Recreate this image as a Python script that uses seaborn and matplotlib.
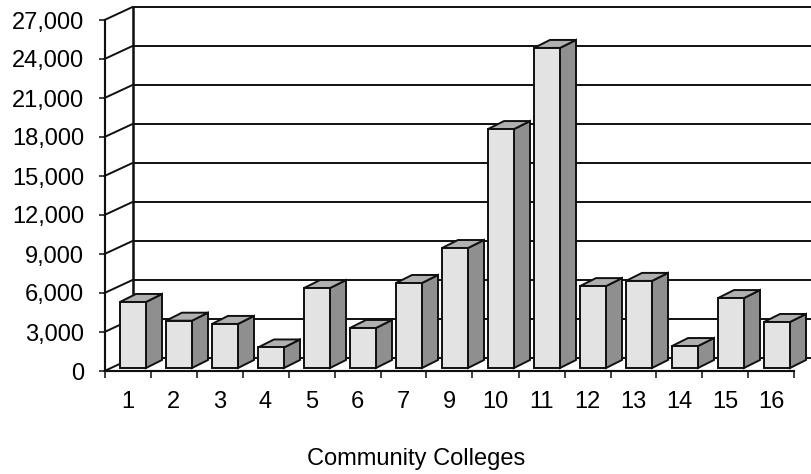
import numpy as np
import pandas as pd
import seaborn as sns
import matplotlib.pyplot as plt
from matplotlib.patches import Polygon

# Note the source chart has no college 8.
colleges = ['1', '2', '3', '4', '5', '6', '7', '9', '10', '11', '12', '13', '14', '15', '16']
students = [5080, 3640, 3390, 1580, 6150, 3080, 6540, 9230, 18380, 24620, 6300, 6700, 1690, 5380, 3540]
y_ticks = [0, 3000, 6000, 9000, 12000, 15000, 18000, 21000, 24000, 27000]

sns.set_style('white')
plt.rcParams['font.family'] = ['Liberation Sans', 'DejaVu Sans']
ink = '#101010'
lw = 1.4

fig = plt.figure(figsize=(8.11, 4.74), dpi=100)
ax = fig.add_axes([104.5 / 811, 103 / 474, 690 / 811, 351 / 474])

df = pd.DataFrame({'college': colleges, 'students': students})
sns.barplot(data=df, x='college', y='students', order=colleges, color='#e3e3e3',
            saturation=1, width=26 / 46, edgecolor=ink, linewidth=lw, ax=ax, zorder=4)
ax.set_xlim(-0.5, 14.5)
ax.set_ylim(0, 27000)

# One category is 46 px wide, 1000 students are 13 px tall.
px_x = 1 / 46
px_y = 1000 / 13

# Fake 3d: back wall and floor.
wall_x = -0.5 + 28 * px_x
wall_dy = 13 * px_y
right_edge = -0.5 + (811 - 104.5) * px_x
for v in y_ticks:
    ax.plot([-0.5, wall_x], [v, v + wall_dy], color=ink, lw=lw, clip_on=False, zorder=2)
    ax.plot([wall_x, right_edge], [v + wall_dy, v + wall_dy], color=ink, lw=lw,
            clip_on=False, zorder=2)
ax.plot([wall_x, wall_x], [wall_dy, 27000 + wall_dy], color=ink, lw=lw * 1.3, clip_on=False, zorder=2)

# Shift the fronts to mid depth, then add the side and top faces.
base = 3 * px_y
depth_x = 16 * px_x
depth_y = 8 * px_y
for bar in ax.containers[0]:
    x0 = bar.get_x() + 5.5 * px_x
    w = bar.get_width()
    h = bar.get_height()
    bar.set_x(x0)
    bar.set_y(base)
    x1 = x0 + w
    top = base + h
    side = [(x1, base), (x1 + depth_x, base + depth_y), (x1 + depth_x, top + depth_y), (x1, top)]
    roof = [(x0, top), (x0 + depth_x, top + depth_y), (x1 + depth_x, top + depth_y), (x1, top)]
    ax.add_patch(Polygon(side, facecolor='#8f8f8f', edgecolor=ink, lw=lw, clip_on=False, zorder=3))
    ax.add_patch(Polygon(roof, facecolor='#b0b0b0', edgecolor=ink, lw=lw, clip_on=False, zorder=3))
    bar.set_clip_on(False)

sns.despine(ax=ax, top=True, right=True)
for s in ['left', 'bottom']:
    ax.spines[s].set_color(ink)
    ax.spines[s].set_linewidth(lw * 1.1)
    ax.spines[s].set_zorder(5)

ax.set_yticks(y_ticks)
ax.set_yticklabels([f'{v:,}' for v in y_ticks])
ax.set_xticks(np.arange(len(colleges)))
ax.set_xticklabels(colleges)
ax.set_xticks(np.arange(len(colleges) + 1) - 0.5, minor=True)
ax.tick_params(axis='y', left=True, length=4.5, width=lw * 0.8, color=ink, labelsize=17, labelcolor='black', pad=10)
ax.tick_params(axis='x', which='major', bottom=False, length=0, labelsize=17, labelcolor='black', pad=14.5)
ax.tick_params(axis='x', which='minor', bottom=True, length=5, width=lw * 0.8, color=ink)

ax.set_ylabel('')
ax.set_xlabel('Community Colleges', fontsize=17, color='black')
ax.xaxis.set_label_coords((416 - 104.5) / 690, -88 / 351)
ax.xaxis.label.set_verticalalignment('center')

fig.savefig('out.png', dpi=100)
